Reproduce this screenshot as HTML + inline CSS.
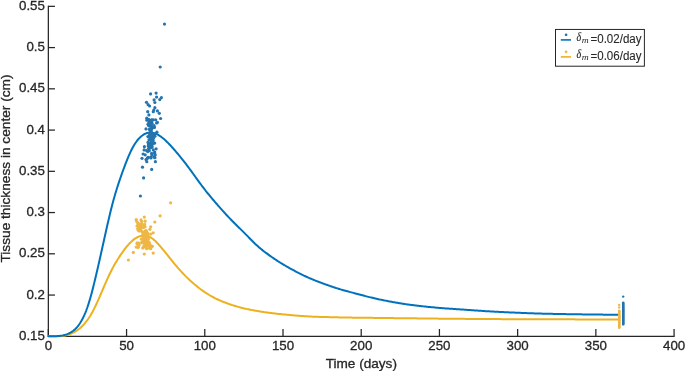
<!DOCTYPE html>
<html><head><meta charset="utf-8"><title>Tissue thickness</title><style>html,body{margin:0;padding:0;background:#fff}svg{display:block}</style></head><body>
<svg width="685" height="371" viewBox="0 0 685 371">
<rect width="685" height="371" fill="#fff"/>
<g stroke="#262626" stroke-width="1.25" fill="none">
<path d="M48.35 5.75 V336.90000000000003 M47.75 336.3 H674.65"/>
<path d="M48.35 336.30 h6.6"/>
<path d="M48.35 295.06 h6.6"/>
<path d="M48.35 253.81 h6.6"/>
<path d="M48.35 212.56 h6.6"/>
<path d="M48.35 171.32 h6.6"/>
<path d="M48.35 130.08 h6.6"/>
<path d="M48.35 88.83 h6.6"/>
<path d="M48.35 47.58 h6.6"/>
<path d="M48.35 6.34 h6.6"/>
<path d="M48.35 336.3 v-7.3"/>
<path d="M126.56 336.3 v-7.3"/>
<path d="M204.78 336.3 v-7.3"/>
<path d="M283.00 336.3 v-7.3"/>
<path d="M361.21 336.3 v-7.3"/>
<path d="M439.43 336.3 v-7.3"/>
<path d="M517.64 336.3 v-7.3"/>
<path d="M595.86 336.3 v-7.3"/>
<path d="M674.07 336.3 v-7.3"/>
</g>
<g font-family="&quot;Liberation Sans&quot;, sans-serif" font-size="13.3" fill="#262626" stroke="#262626" stroke-width="0.3">
<text x="44.9" y="339.7" text-anchor="end">0.15</text>
<text x="44.9" y="298.5" text-anchor="end">0.2</text>
<text x="44.9" y="257.2" text-anchor="end">0.25</text>
<text x="44.9" y="216.0" text-anchor="end">0.3</text>
<text x="44.9" y="174.7" text-anchor="end">0.35</text>
<text x="44.9" y="133.5" text-anchor="end">0.4</text>
<text x="44.9" y="92.2" text-anchor="end">0.45</text>
<text x="44.9" y="51.0" text-anchor="end">0.5</text>
<text x="44.9" y="9.7" text-anchor="end">0.55</text>
<text x="48.4" y="349.7" text-anchor="middle">0</text>
<text x="126.6" y="349.7" text-anchor="middle">50</text>
<text x="204.8" y="349.7" text-anchor="middle">100</text>
<text x="283.0" y="349.7" text-anchor="middle">150</text>
<text x="361.2" y="349.7" text-anchor="middle">200</text>
<text x="439.4" y="349.7" text-anchor="middle">250</text>
<text x="517.6" y="349.7" text-anchor="middle">300</text>
<text x="595.9" y="349.7" text-anchor="middle">350</text>
<text x="674.1" y="349.7" text-anchor="middle">400</text>
</g>
<g font-family="&quot;Liberation Sans&quot;, sans-serif" font-size="13.6" fill="#262626" stroke="#262626" stroke-width="0.3">
<text x="361.3" y="367.6" text-anchor="middle">Time (days)</text>
<text transform="translate(9.6,168.5) rotate(-90)" text-anchor="middle" font-size="13.7">Tissue thickness in center (cm)</text>
</g>
<path d="M48.4 336.20 L49.4 336.20 L50.4 336.20 L51.4 336.20 L52.4 336.20 L53.4 336.20 L54.4 336.20 L55.4 336.20 L56.4 336.20 L57.4 336.20 L58.4 336.19 L59.4 336.15 L60.4 336.10 L61.4 336.03 L62.4 335.94 L63.4 335.83 L64.3 335.68 L65.3 335.50 L66.3 335.28 L67.3 335.03 L68.3 334.74 L69.3 334.41 L70.3 334.05 L71.3 333.65 L72.3 333.20 L73.3 332.71 L74.3 332.17 L75.3 331.59 L76.3 330.96 L77.3 330.27 L78.3 329.54 L79.3 328.75 L80.3 327.90 L81.3 327.00 L82.3 326.03 L83.3 325.00 L84.3 323.90 L85.3 322.73 L86.3 321.49 L87.3 320.16 L88.3 318.75 L89.3 317.26 L90.3 315.68 L91.3 314.00 L92.3 312.23 L93.3 310.36 L94.3 308.40 L95.3 306.36 L96.3 304.24 L97.3 302.06 L98.3 299.82 L99.3 297.55 L100.3 295.24 L101.3 292.92 L102.3 290.58 L103.3 288.24 L104.3 285.91 L105.3 283.60 L106.3 281.31 L107.3 279.07 L108.3 276.88 L109.3 274.76 L110.3 272.70 L111.3 270.70 L112.3 268.77 L113.3 266.90 L114.3 265.09 L115.3 263.34 L116.3 261.64 L117.3 260.00 L118.3 258.41 L119.3 256.86 L120.3 255.36 L121.3 253.89 L122.3 252.46 L123.3 251.07 L124.3 249.72 L125.3 248.42 L126.3 247.16 L127.3 245.95 L128.3 244.79 L129.3 243.69 L130.3 242.64 L131.3 241.65 L132.3 240.73 L133.3 239.88 L134.3 239.10 L135.3 238.41 L136.3 237.79 L137.3 237.25 L138.3 236.79 L139.3 236.40 L140.3 236.09 L141.3 235.85 L142.3 235.69 L143.3 235.60 L144.3 235.59 L145.3 235.66 L146.3 235.80 L147.3 236.03 L148.3 236.35 L149.3 236.75 L150.3 237.24 L151.3 237.83 L152.3 238.51 L153.3 239.28 L154.3 240.13 L155.3 241.05 L156.3 242.04 L157.3 243.08 L158.3 244.16 L159.3 245.27 L160.3 246.41 L161.3 247.58 L162.3 248.76 L163.3 249.97 L164.3 251.18 L165.3 252.41 L166.3 253.65 L167.3 254.89 L168.3 256.14 L169.3 257.39 L170.3 258.64 L171.3 259.88 L172.3 261.12 L173.3 262.36 L174.3 263.58 L175.3 264.79 L176.3 265.98 L177.3 267.16 L178.3 268.32 L179.3 269.46 L180.3 270.58 L181.3 271.68 L182.3 272.76 L183.3 273.81 L184.3 274.85 L185.3 275.86 L186.3 276.86 L187.3 277.84 L188.3 278.79 L189.3 279.74 L190.3 280.66 L191.3 281.57 L192.3 282.46 L193.3 283.33 L194.3 284.19 L195.3 285.03 L196.3 285.85 L197.3 286.65 L198.3 287.44 L199.3 288.21 L200.3 288.96 L201.3 289.70 L202.3 290.42 L203.3 291.13 L204.3 291.81 L205.3 292.48 L206.3 293.14 L207.3 293.77 L208.3 294.39 L209.3 295.00 L210.3 295.58 L211.3 296.16 L212.3 296.71 L213.3 297.25 L214.3 297.78 L215.3 298.29 L216.3 298.78 L217.3 299.26 L218.3 299.73 L219.3 300.18 L220.3 300.62 L221.3 301.05 L222.3 301.46 L223.3 301.87 L224.3 302.26 L225.3 302.65 L226.3 303.02 L227.3 303.38 L228.3 303.74 L229.3 304.09 L230.3 304.43 L231.3 304.76 L232.3 305.09 L233.3 305.40 L234.3 305.71 L235.3 306.01 L236.3 306.31 L237.3 306.60 L238.3 306.88 L239.3 307.15 L240.3 307.42 L241.3 307.68 L242.3 307.94 L243.3 308.18 L244.3 308.42 L245.3 308.66 L246.3 308.89 L247.3 309.11 L248.3 309.32 L249.3 309.53 L250.3 309.74 L251.3 309.94 L252.3 310.13 L253.3 310.32 L254.3 310.50 L255.3 310.68 L256.4 310.85 L257.4 311.02 L258.4 311.19 L259.4 311.35 L260.4 311.51 L261.4 311.67 L262.4 311.82 L263.4 311.97 L264.4 312.12 L265.4 312.27 L266.4 312.41 L267.4 312.55 L268.4 312.69 L269.4 312.82 L270.4 312.96 L271.4 313.08 L272.4 313.21 L273.4 313.33 L274.4 313.45 L275.4 313.57 L276.4 313.68 L277.4 313.79 L278.4 313.89 L279.4 314.00 L280.4 314.10 L281.4 314.20 L282.4 314.29 L283.4 314.39 L284.4 314.49 L285.4 314.58 L286.4 314.68 L287.4 314.77 L288.4 314.87 L289.4 314.96 L290.4 315.05 L291.4 315.14 L292.4 315.23 L293.4 315.32 L294.4 315.40 L295.4 315.49 L296.4 315.57 L297.4 315.65 L298.4 315.73 L299.4 315.81 L300.4 315.89 L301.4 315.96 L302.4 316.03 L303.4 316.10 L304.4 316.17 L305.4 316.24 L306.4 316.30 L307.4 316.36 L308.4 316.42 L309.4 316.48 L310.4 316.53 L311.4 316.58 L312.4 316.63 L313.4 316.67 L314.4 316.71 L315.4 316.75 L316.4 316.79 L317.4 316.82 L318.4 316.85 L319.4 316.88 L320.4 316.91 L321.4 316.94 L322.4 316.97 L323.4 316.99 L324.4 317.01 L325.4 317.04 L326.4 317.06 L327.4 317.09 L328.4 317.11 L329.4 317.13 L330.4 317.16 L331.4 317.18 L332.4 317.21 L333.4 317.23 L334.4 317.26 L335.4 317.28 L336.4 317.31 L337.4 317.33 L338.4 317.36 L339.4 317.38 L340.4 317.40 L341.4 317.43 L342.4 317.45 L343.4 317.47 L344.4 317.49 L345.4 317.51 L346.4 317.53 L347.4 317.55 L348.4 317.57 L349.4 317.58 L350.4 317.60 L351.4 317.62 L352.4 317.63 L353.4 317.65 L354.4 317.66 L355.4 317.68 L356.4 317.69 L357.4 317.70 L358.4 317.72 L359.4 317.73 L360.4 317.74 L361.4 317.75 L362.4 317.77 L363.4 317.78 L364.4 317.79 L365.4 317.80 L366.4 317.81 L367.4 317.82 L368.4 317.83 L369.4 317.84 L370.4 317.85 L371.4 317.86 L372.4 317.87 L373.4 317.88 L374.4 317.89 L375.4 317.91 L376.4 317.92 L377.4 317.93 L378.4 317.94 L379.4 317.95 L380.4 317.96 L381.4 317.97 L382.4 317.99 L383.4 318.00 L384.4 318.01 L385.4 318.02 L386.4 318.03 L387.4 318.04 L388.4 318.06 L389.4 318.07 L390.4 318.08 L391.4 318.09 L392.4 318.10 L393.4 318.11 L394.4 318.13 L395.4 318.14 L396.4 318.15 L397.4 318.16 L398.4 318.17 L399.4 318.18 L400.4 318.19 L401.4 318.20 L402.4 318.22 L403.4 318.23 L404.4 318.24 L405.4 318.25 L406.4 318.26 L407.4 318.27 L408.4 318.28 L409.4 318.29 L410.4 318.30 L411.4 318.32 L412.4 318.33 L413.4 318.34 L414.4 318.35 L415.4 318.36 L416.4 318.37 L417.4 318.39 L418.4 318.40 L419.4 318.41 L420.4 318.42 L421.4 318.43 L422.4 318.44 L423.4 318.46 L424.4 318.47 L425.4 318.48 L426.4 318.49 L427.4 318.50 L428.4 318.52 L429.4 318.53 L430.4 318.54 L431.4 318.55 L432.4 318.56 L433.4 318.57 L434.4 318.59 L435.4 318.60 L436.4 318.61 L437.4 318.62 L438.4 318.63 L439.4 318.64 L440.4 318.65 L441.4 318.66 L442.4 318.67 L443.4 318.68 L444.4 318.69 L445.4 318.70 L446.4 318.71 L447.4 318.72 L448.4 318.73 L449.4 318.74 L450.4 318.75 L451.4 318.76 L452.4 318.77 L453.4 318.78 L454.4 318.79 L455.4 318.79 L456.4 318.80 L457.4 318.81 L458.4 318.82 L459.4 318.83 L460.4 318.84 L461.4 318.85 L462.4 318.85 L463.4 318.86 L464.4 318.87 L465.4 318.88 L466.4 318.89 L467.4 318.90 L468.4 318.91 L469.4 318.91 L470.4 318.92 L471.4 318.93 L472.4 318.94 L473.4 318.95 L474.4 318.96 L475.4 318.96 L476.4 318.97 L477.4 318.98 L478.4 318.99 L479.4 318.99 L480.4 319.00 L481.4 319.01 L482.4 319.02 L483.4 319.02 L484.4 319.03 L485.4 319.03 L486.4 319.04 L487.4 319.05 L488.4 319.05 L489.4 319.06 L490.4 319.06 L491.4 319.07 L492.4 319.07 L493.4 319.08 L494.4 319.09 L495.4 319.09 L496.4 319.10 L497.4 319.10 L498.4 319.11 L499.4 319.11 L500.4 319.12 L501.4 319.13 L502.4 319.13 L503.4 319.14 L504.4 319.14 L505.4 319.15 L506.4 319.16 L507.4 319.16 L508.4 319.17 L509.4 319.17 L510.4 319.18 L511.4 319.18 L512.4 319.19 L513.4 319.19 L514.4 319.20 L515.4 319.20 L516.4 319.20 L517.4 319.21 L518.4 319.21 L519.4 319.22 L520.4 319.22 L521.4 319.22 L522.4 319.23 L523.4 319.23 L524.4 319.23 L525.4 319.23 L526.4 319.24 L527.4 319.24 L528.4 319.24 L529.4 319.24 L530.4 319.25 L531.4 319.25 L532.4 319.25 L533.4 319.25 L534.4 319.26 L535.4 319.26 L536.4 319.26 L537.4 319.26 L538.4 319.27 L539.4 319.27 L540.4 319.27 L541.4 319.28 L542.4 319.28 L543.4 319.28 L544.4 319.28 L545.4 319.29 L546.4 319.29 L547.4 319.29 L548.4 319.30 L549.4 319.30 L550.4 319.30 L551.4 319.30 L552.4 319.31 L553.4 319.31 L554.4 319.31 L555.4 319.32 L556.4 319.32 L557.4 319.32 L558.4 319.32 L559.4 319.33 L560.4 319.33 L561.4 319.33 L562.4 319.34 L563.4 319.34 L564.4 319.34 L565.4 319.35 L566.4 319.35 L567.4 319.35 L568.4 319.35 L569.4 319.36 L570.4 319.36 L571.4 319.36 L572.4 319.37 L573.4 319.37 L574.4 319.37 L575.4 319.38 L576.4 319.38 L577.4 319.38 L578.4 319.39 L579.4 319.39 L580.4 319.39 L581.4 319.39 L582.4 319.39 L583.4 319.40 L584.4 319.40 L585.4 319.40 L586.4 319.40 L587.4 319.40 L588.4 319.40 L589.4 319.40 L590.4 319.40 L591.4 319.40 L592.4 319.40 L593.4 319.40 L594.4 319.40 L595.4 319.40 L596.4 319.40 L597.4 319.40 L598.4 319.40 L599.4 319.40 L600.4 319.40 L601.4 319.40 L602.4 319.40 L603.4 319.40 L604.4 319.40 L605.4 319.40 L606.4 319.40 L607.4 319.40 L608.4 319.40 L609.4 319.40 L610.4 319.40 L611.4 319.40 L612.4 319.40 L613.4 319.40 L614.4 319.40 L615.4 319.40 L616.4 319.40 L617.4 319.40 L618.4 319.40" fill="none" stroke="#EDB120" stroke-width="2" stroke-linejoin="round" stroke-linecap="round"/>
<path d="M48.4 336.20 L49.4 336.20 L50.4 336.20 L51.4 336.20 L52.4 336.20 L53.4 336.20 L54.4 336.20 L55.4 336.18 L56.4 336.14 L57.4 336.09 L58.4 336.02 L59.4 335.94 L60.4 335.82 L61.4 335.68 L62.4 335.51 L63.4 335.31 L64.3 335.07 L65.3 334.79 L66.3 334.47 L67.3 334.10 L68.3 333.69 L69.3 333.22 L70.3 332.69 L71.3 332.10 L72.3 331.45 L73.3 330.71 L74.3 329.89 L75.3 328.98 L76.3 327.97 L77.3 326.85 L78.3 325.61 L79.3 324.24 L80.3 322.73 L81.3 321.08 L82.3 319.27 L83.3 317.29 L84.3 315.14 L85.3 312.80 L86.3 310.26 L87.3 307.52 L88.3 304.57 L89.3 301.40 L90.3 298.01 L91.3 294.41 L92.3 290.62 L93.3 286.69 L94.3 282.63 L95.3 278.49 L96.3 274.27 L97.3 269.99 L98.3 265.64 L99.3 261.23 L100.3 256.78 L101.3 252.28 L102.3 247.76 L103.3 243.22 L104.3 238.69 L105.3 234.18 L106.3 229.71 L107.3 225.29 L108.3 220.94 L109.3 216.67 L110.3 212.51 L111.3 208.47 L112.3 204.56 L113.3 200.81 L114.3 197.21 L115.3 193.77 L116.3 190.46 L117.3 187.26 L118.3 184.16 L119.3 181.15 L120.3 178.20 L121.3 175.32 L122.3 172.49 L123.3 169.73 L124.3 167.03 L125.3 164.39 L126.3 161.81 L127.3 159.31 L128.3 156.89 L129.3 154.57 L130.3 152.37 L131.3 150.28 L132.3 148.33 L133.3 146.50 L134.3 144.80 L135.3 143.22 L136.3 141.78 L137.3 140.45 L138.3 139.25 L139.3 138.16 L140.3 137.17 L141.3 136.30 L142.3 135.52 L143.3 134.83 L144.3 134.23 L145.3 133.73 L146.3 133.32 L147.3 133.00 L148.3 132.76 L149.3 132.62 L150.3 132.57 L151.3 132.60 L152.3 132.72 L153.3 132.91 L154.3 133.19 L155.3 133.53 L156.3 133.94 L157.3 134.42 L158.3 134.97 L159.3 135.57 L160.3 136.23 L161.3 136.94 L162.3 137.70 L163.3 138.50 L164.3 139.36 L165.3 140.25 L166.3 141.19 L167.3 142.16 L168.3 143.17 L169.3 144.21 L170.3 145.27 L171.3 146.36 L172.3 147.47 L173.3 148.60 L174.3 149.74 L175.3 150.89 L176.3 152.05 L177.3 153.23 L178.3 154.42 L179.3 155.62 L180.3 156.84 L181.3 158.07 L182.3 159.32 L183.3 160.58 L184.3 161.86 L185.3 163.15 L186.3 164.46 L187.3 165.79 L188.3 167.13 L189.3 168.48 L190.3 169.84 L191.3 171.21 L192.3 172.59 L193.3 173.97 L194.3 175.37 L195.3 176.76 L196.3 178.16 L197.3 179.55 L198.3 180.93 L199.3 182.31 L200.3 183.67 L201.3 185.01 L202.3 186.34 L203.3 187.65 L204.3 188.95 L205.3 190.24 L206.3 191.51 L207.3 192.76 L208.3 194.00 L209.3 195.23 L210.3 196.45 L211.3 197.65 L212.3 198.84 L213.3 200.02 L214.3 201.20 L215.3 202.36 L216.3 203.52 L217.3 204.66 L218.3 205.81 L219.3 206.95 L220.3 208.08 L221.3 209.20 L222.3 210.32 L223.3 211.43 L224.3 212.53 L225.3 213.62 L226.3 214.70 L227.3 215.77 L228.3 216.83 L229.3 217.88 L230.3 218.91 L231.3 219.94 L232.3 220.95 L233.3 221.96 L234.3 222.97 L235.3 223.96 L236.3 224.96 L237.3 225.95 L238.3 226.93 L239.3 227.92 L240.3 228.90 L241.3 229.89 L242.3 230.88 L243.3 231.87 L244.3 232.86 L245.3 233.86 L246.3 234.87 L247.3 235.88 L248.3 236.90 L249.3 237.93 L250.3 238.95 L251.3 239.97 L252.3 240.98 L253.3 241.98 L254.3 242.97 L255.3 243.94 L256.4 244.90 L257.4 245.83 L258.4 246.74 L259.4 247.63 L260.4 248.48 L261.4 249.31 L262.4 250.12 L263.4 250.91 L264.4 251.68 L265.4 252.43 L266.4 253.17 L267.4 253.91 L268.4 254.63 L269.4 255.35 L270.4 256.06 L271.4 256.77 L272.4 257.47 L273.4 258.16 L274.4 258.84 L275.4 259.52 L276.4 260.18 L277.4 260.84 L278.4 261.49 L279.4 262.12 L280.4 262.75 L281.4 263.36 L282.4 263.97 L283.4 264.57 L284.4 265.16 L285.4 265.75 L286.4 266.32 L287.4 266.89 L288.4 267.46 L289.4 268.02 L290.4 268.57 L291.4 269.12 L292.4 269.66 L293.4 270.20 L294.4 270.74 L295.4 271.27 L296.4 271.79 L297.4 272.31 L298.4 272.83 L299.4 273.34 L300.4 273.84 L301.4 274.34 L302.4 274.83 L303.4 275.32 L304.4 275.80 L305.4 276.27 L306.4 276.73 L307.4 277.18 L308.4 277.63 L309.4 278.07 L310.4 278.50 L311.4 278.92 L312.4 279.34 L313.4 279.75 L314.4 280.15 L315.4 280.56 L316.4 280.95 L317.4 281.35 L318.4 281.74 L319.4 282.13 L320.4 282.51 L321.4 282.89 L322.4 283.26 L323.4 283.63 L324.4 283.99 L325.4 284.36 L326.4 284.71 L327.4 285.06 L328.4 285.41 L329.4 285.76 L330.4 286.10 L331.4 286.44 L332.4 286.77 L333.4 287.11 L334.4 287.44 L335.4 287.76 L336.4 288.09 L337.4 288.41 L338.4 288.72 L339.4 289.03 L340.4 289.34 L341.4 289.64 L342.4 289.94 L343.4 290.23 L344.4 290.51 L345.4 290.78 L346.4 291.06 L347.4 291.32 L348.4 291.59 L349.4 291.85 L350.4 292.11 L351.4 292.37 L352.4 292.63 L353.4 292.89 L354.4 293.16 L355.4 293.43 L356.4 293.70 L357.4 293.97 L358.4 294.24 L359.4 294.51 L360.4 294.78 L361.4 295.05 L362.4 295.31 L363.4 295.58 L364.4 295.84 L365.4 296.10 L366.4 296.35 L367.4 296.61 L368.4 296.86 L369.4 297.10 L370.4 297.35 L371.4 297.59 L372.4 297.83 L373.4 298.06 L374.4 298.29 L375.4 298.52 L376.4 298.74 L377.4 298.97 L378.4 299.19 L379.4 299.40 L380.4 299.61 L381.4 299.83 L382.4 300.03 L383.4 300.24 L384.4 300.44 L385.4 300.64 L386.4 300.84 L387.4 301.03 L388.4 301.23 L389.4 301.42 L390.4 301.60 L391.4 301.79 L392.4 301.97 L393.4 302.15 L394.4 302.33 L395.4 302.51 L396.4 302.68 L397.4 302.85 L398.4 303.02 L399.4 303.18 L400.4 303.34 L401.4 303.50 L402.4 303.66 L403.4 303.81 L404.4 303.97 L405.4 304.12 L406.4 304.26 L407.4 304.40 L408.4 304.55 L409.4 304.68 L410.4 304.82 L411.4 304.95 L412.4 305.08 L413.4 305.21 L414.4 305.34 L415.4 305.46 L416.4 305.58 L417.4 305.70 L418.4 305.82 L419.4 305.93 L420.4 306.05 L421.4 306.16 L422.4 306.27 L423.4 306.38 L424.4 306.48 L425.4 306.59 L426.4 306.69 L427.4 306.79 L428.4 306.89 L429.4 306.99 L430.4 307.09 L431.4 307.18 L432.4 307.28 L433.4 307.37 L434.4 307.46 L435.4 307.55 L436.4 307.64 L437.4 307.73 L438.4 307.82 L439.4 307.90 L440.4 307.98 L441.4 308.06 L442.4 308.14 L443.4 308.22 L444.4 308.30 L445.4 308.38 L446.4 308.45 L447.4 308.52 L448.4 308.60 L449.4 308.67 L450.4 308.74 L451.4 308.81 L452.4 308.87 L453.4 308.94 L454.4 309.01 L455.4 309.08 L456.4 309.14 L457.4 309.21 L458.4 309.28 L459.4 309.35 L460.4 309.41 L461.4 309.48 L462.4 309.55 L463.4 309.62 L464.4 309.69 L465.4 309.75 L466.4 309.82 L467.4 309.89 L468.4 309.97 L469.4 310.04 L470.4 310.11 L471.4 310.18 L472.4 310.25 L473.4 310.32 L474.4 310.39 L475.4 310.46 L476.4 310.53 L477.4 310.60 L478.4 310.67 L479.4 310.74 L480.4 310.81 L481.4 310.87 L482.4 310.94 L483.4 311.00 L484.4 311.07 L485.4 311.13 L486.4 311.19 L487.4 311.25 L488.4 311.31 L489.4 311.37 L490.4 311.43 L491.4 311.49 L492.4 311.54 L493.4 311.60 L494.4 311.65 L495.4 311.71 L496.4 311.76 L497.4 311.81 L498.4 311.86 L499.4 311.91 L500.4 311.96 L501.4 312.01 L502.4 312.06 L503.4 312.11 L504.4 312.16 L505.4 312.20 L506.4 312.25 L507.4 312.30 L508.4 312.34 L509.4 312.39 L510.4 312.44 L511.4 312.48 L512.4 312.53 L513.4 312.57 L514.4 312.62 L515.4 312.66 L516.4 312.70 L517.4 312.75 L518.4 312.79 L519.4 312.83 L520.4 312.87 L521.4 312.92 L522.4 312.96 L523.4 313.00 L524.4 313.04 L525.4 313.08 L526.4 313.11 L527.4 313.15 L528.4 313.19 L529.4 313.23 L530.4 313.26 L531.4 313.30 L532.4 313.33 L533.4 313.36 L534.4 313.40 L535.4 313.43 L536.4 313.46 L537.4 313.49 L538.4 313.52 L539.4 313.55 L540.4 313.58 L541.4 313.60 L542.4 313.63 L543.4 313.65 L544.4 313.68 L545.4 313.70 L546.4 313.73 L547.4 313.75 L548.4 313.78 L549.4 313.80 L550.4 313.82 L551.4 313.84 L552.4 313.86 L553.4 313.88 L554.4 313.90 L555.4 313.92 L556.4 313.94 L557.4 313.96 L558.4 313.98 L559.4 314.00 L560.4 314.02 L561.4 314.04 L562.4 314.06 L563.4 314.08 L564.4 314.09 L565.4 314.11 L566.4 314.13 L567.4 314.15 L568.4 314.16 L569.4 314.18 L570.4 314.20 L571.4 314.21 L572.4 314.23 L573.4 314.25 L574.4 314.26 L575.4 314.28 L576.4 314.29 L577.4 314.31 L578.4 314.33 L579.4 314.34 L580.4 314.36 L581.4 314.37 L582.4 314.38 L583.4 314.40 L584.4 314.41 L585.4 314.43 L586.4 314.44 L587.4 314.45 L588.4 314.47 L589.4 314.48 L590.4 314.49 L591.4 314.50 L592.4 314.52 L593.4 314.53 L594.4 314.54 L595.4 314.55 L596.4 314.56 L597.4 314.57 L598.4 314.58 L599.4 314.59 L600.4 314.60 L601.4 314.61 L602.4 314.62 L603.4 314.63 L604.4 314.64 L605.4 314.65 L606.4 314.66 L607.4 314.66 L608.4 314.67 L609.4 314.68 L610.4 314.69 L611.4 314.70 L612.4 314.70 L613.4 314.71 L614.4 314.72 L615.4 314.72 L616.4 314.73 L617.4 314.74 L618.4 314.75" fill="none" stroke="#0072BD" stroke-width="2" stroke-linejoin="round" stroke-linecap="round"/>
<g fill="#2474ae"><circle cx="150.6" cy="93.9" r="1.6"/><circle cx="156.1" cy="93.1" r="1.6"/><circle cx="161.4" cy="97.6" r="1.6"/><circle cx="159.8" cy="99.6" r="1.6"/><circle cx="156.6" cy="97.1" r="1.6"/><circle cx="154.1" cy="99.9" r="1.6"/><circle cx="154.9" cy="102.5" r="1.6"/><circle cx="146.5" cy="102.3" r="1.6"/><circle cx="148.1" cy="104.7" r="1.6"/><circle cx="149.6" cy="106.0" r="1.6"/><circle cx="154.9" cy="107.7" r="1.6"/><circle cx="153.8" cy="110.1" r="1.6"/><circle cx="153.3" cy="111.7" r="1.6"/><circle cx="157.4" cy="110.9" r="1.6"/><circle cx="159.3" cy="113.3" r="1.6"/><circle cx="147.7" cy="111.7" r="1.6"/><circle cx="148.9" cy="114.9" r="1.6"/><circle cx="146.8" cy="118.2" r="1.6"/><circle cx="149.3" cy="119.8" r="1.6"/><circle cx="160.6" cy="118.5" r="1.6"/><circle cx="153.3" cy="119.8" r="1.6"/><circle cx="155.7" cy="119.8" r="1.6"/><circle cx="156.6" cy="123.0" r="1.6"/><circle cx="157.4" cy="122.4" r="1.6"/><circle cx="146.0" cy="128.9" r="1.6"/><circle cx="154.9" cy="136.2" r="1.6"/><circle cx="144.4" cy="146.7" r="1.6"/><circle cx="144.1" cy="149.9" r="1.6"/><circle cx="143.1" cy="154.0" r="1.6"/><circle cx="142.0" cy="158.3" r="1.6"/><circle cx="142.5" cy="167.2" r="1.6"/><circle cx="143.6" cy="177.9" r="1.6"/><circle cx="151.7" cy="169.4" r="1.6"/><circle cx="155.4" cy="161.7" r="1.6"/><circle cx="146.8" cy="161.7" r="1.6"/><circle cx="146.0" cy="159.6" r="1.6"/><circle cx="147.7" cy="157.5" r="1.6"/><circle cx="150.9" cy="157.2" r="1.6"/><circle cx="154.1" cy="156.9" r="1.6"/><circle cx="154.6" cy="153.2" r="1.6"/><circle cx="156.1" cy="148.8" r="1.6"/><circle cx="153.3" cy="149.9" r="1.6"/><circle cx="149.3" cy="150.7" r="1.6"/><circle cx="149.3" cy="148.3" r="1.6"/><circle cx="147.7" cy="151.6" r="1.6"/><circle cx="145.2" cy="154.8" r="1.6"/><circle cx="151.7" cy="145.9" r="1.6"/><circle cx="140.4" cy="196.0" r="1.6"/><circle cx="164.5" cy="24.1" r="1.6"/><circle cx="160.2" cy="67.0" r="1.6"/><circle cx="148.9" cy="125.7" r="1.6"/><circle cx="150.2" cy="135.9" r="1.6"/><circle cx="151.0" cy="136.5" r="1.6"/><circle cx="150.8" cy="142.4" r="1.6"/><circle cx="151.3" cy="126.3" r="1.6"/><circle cx="156.9" cy="132.2" r="1.6"/><circle cx="148.0" cy="142.4" r="1.6"/><circle cx="151.1" cy="123.2" r="1.6"/><circle cx="152.3" cy="136.8" r="1.6"/><circle cx="149.0" cy="139.8" r="1.6"/><circle cx="153.6" cy="137.8" r="1.6"/><circle cx="152.0" cy="135.6" r="1.6"/><circle cx="154.4" cy="127.4" r="1.6"/><circle cx="151.4" cy="132.2" r="1.6"/><circle cx="152.9" cy="139.1" r="1.6"/><circle cx="148.6" cy="144.8" r="1.6"/><circle cx="151.3" cy="130.1" r="1.6"/><circle cx="148.7" cy="145.2" r="1.6"/><circle cx="151.5" cy="143.6" r="1.6"/><circle cx="151.3" cy="125.1" r="1.6"/><circle cx="148.2" cy="146.0" r="1.6"/><circle cx="151.7" cy="127.4" r="1.6"/><circle cx="149.4" cy="133.2" r="1.6"/><circle cx="151.9" cy="135.4" r="1.6"/><circle cx="153.1" cy="135.4" r="1.6"/><circle cx="149.1" cy="145.0" r="1.6"/><circle cx="153.5" cy="143.0" r="1.6"/><circle cx="150.5" cy="123.6" r="1.6"/><circle cx="154.7" cy="143.1" r="1.6"/><circle cx="149.8" cy="134.9" r="1.6"/><circle cx="151.6" cy="139.0" r="1.6"/><circle cx="154.2" cy="135.1" r="1.6"/><circle cx="154.1" cy="127.0" r="1.6"/><circle cx="152.1" cy="146.7" r="1.6"/><circle cx="151.3" cy="121.5" r="1.6"/><circle cx="148.8" cy="123.2" r="1.6"/><circle cx="151.2" cy="127.2" r="1.6"/><circle cx="146.9" cy="120.2" r="1.6"/><circle cx="153.6" cy="136.2" r="1.6"/><circle cx="151.5" cy="128.3" r="1.6"/><circle cx="152.9" cy="143.7" r="1.6"/><circle cx="150.4" cy="147.0" r="1.6"/><circle cx="153.0" cy="127.7" r="1.6"/><circle cx="151.9" cy="119.9" r="1.6"/><circle cx="148.5" cy="124.5" r="1.6"/><circle cx="152.1" cy="123.4" r="1.6"/><circle cx="151.8" cy="120.2" r="1.6"/><circle cx="149.5" cy="145.8" r="1.6"/><circle cx="149.2" cy="144.1" r="1.6"/><circle cx="152.2" cy="133.6" r="1.6"/><circle cx="148.7" cy="137.0" r="1.6"/><circle cx="149.3" cy="136.4" r="1.6"/><circle cx="148.7" cy="145.3" r="1.6"/><circle cx="150.6" cy="139.2" r="1.6"/><circle cx="149.0" cy="125.7" r="1.6"/><circle cx="155.7" cy="133.6" r="1.6"/><circle cx="152.7" cy="134.4" r="1.6"/><circle cx="150.8" cy="135.2" r="1.6"/><circle cx="148.7" cy="119.6" r="1.6"/><circle cx="148.9" cy="120.7" r="1.6"/><circle cx="147.9" cy="136.6" r="1.6"/><circle cx="151.3" cy="128.9" r="1.6"/><circle cx="150.7" cy="138.8" r="1.6"/><circle cx="150.3" cy="120.7" r="1.6"/><circle cx="152.1" cy="137.9" r="1.6"/><circle cx="150.4" cy="131.8" r="1.6"/><circle cx="149.9" cy="135.6" r="1.6"/><circle cx="152.3" cy="127.8" r="1.6"/><circle cx="149.4" cy="129.3" r="1.6"/><circle cx="149.8" cy="129.6" r="1.6"/><circle cx="153.1" cy="140.6" r="1.6"/><circle cx="151.1" cy="139.6" r="1.6"/><circle cx="151.3" cy="127.7" r="1.6"/><circle cx="154.1" cy="125.7" r="1.6"/><circle cx="148.0" cy="124.2" r="1.6"/><circle cx="151.5" cy="147.4" r="1.6"/><circle cx="146.5" cy="150.5" r="1.6"/><circle cx="154.7" cy="152.1" r="1.6"/><circle cx="150.9" cy="158.0" r="1.6"/><circle cx="152.0" cy="155.1" r="1.6"/><circle cx="147.3" cy="158.4" r="1.6"/><circle cx="150.2" cy="147.7" r="1.6"/><circle cx="151.6" cy="153.4" r="1.6"/><circle cx="154.9" cy="157.7" r="1.6"/><circle cx="148.5" cy="148.6" r="1.6"/><circle cx="155.2" cy="155.0" r="1.6"/><circle cx="148.5" cy="157.3" r="1.6"/><circle cx="623.2" cy="296.6" r="1.2"/><circle cx="623.2" cy="302.6" r="1.2"/><circle cx="623.2" cy="303.1" r="1.2"/><circle cx="623.2" cy="303.6" r="1.2"/><circle cx="623.2" cy="304.1" r="1.2"/><circle cx="623.2" cy="304.6" r="1.2"/><circle cx="623.2" cy="305.1" r="1.2"/><circle cx="623.2" cy="305.6" r="1.2"/><circle cx="623.2" cy="306.1" r="1.2"/><circle cx="623.2" cy="306.6" r="1.2"/><circle cx="623.2" cy="307.1" r="1.2"/><circle cx="623.2" cy="307.6" r="1.2"/><circle cx="623.2" cy="308.1" r="1.2"/><circle cx="623.2" cy="308.5" r="1.2"/><circle cx="623.2" cy="309.0" r="1.2"/><circle cx="623.2" cy="309.5" r="1.2"/><circle cx="623.2" cy="310.0" r="1.2"/><circle cx="623.2" cy="310.5" r="1.2"/><circle cx="623.2" cy="311.0" r="1.2"/><circle cx="623.2" cy="311.5" r="1.2"/><circle cx="623.2" cy="312.0" r="1.2"/><circle cx="623.2" cy="312.5" r="1.2"/><circle cx="623.2" cy="313.0" r="1.2"/><circle cx="623.2" cy="313.5" r="1.2"/><circle cx="623.2" cy="314.0" r="1.2"/><circle cx="623.2" cy="314.5" r="1.2"/><circle cx="623.2" cy="315.0" r="1.2"/><circle cx="623.2" cy="315.5" r="1.2"/><circle cx="623.2" cy="316.0" r="1.2"/><circle cx="623.2" cy="316.5" r="1.2"/><circle cx="623.2" cy="317.0" r="1.2"/><circle cx="623.2" cy="317.5" r="1.2"/><circle cx="623.2" cy="318.0" r="1.2"/><circle cx="623.2" cy="318.5" r="1.2"/><circle cx="623.2" cy="318.9" r="1.2"/><circle cx="623.2" cy="319.4" r="1.2"/><circle cx="623.2" cy="319.9" r="1.2"/><circle cx="623.2" cy="320.4" r="1.2"/><circle cx="623.2" cy="320.9" r="1.2"/><circle cx="623.2" cy="321.4" r="1.2"/><circle cx="623.2" cy="321.9" r="1.2"/><circle cx="623.2" cy="322.4" r="1.2"/><circle cx="623.2" cy="322.9" r="1.2"/><circle cx="623.2" cy="323.4" r="1.2"/><circle cx="623.2" cy="323.9" r="1.2"/><circle cx="623.2" cy="324.4" r="1.2"/></g>
<g fill="#eeb746"><circle cx="170.6" cy="202.8" r="1.6"/><circle cx="160.1" cy="215.8" r="1.6"/><circle cx="144.3" cy="217.1" r="1.6"/><circle cx="136.2" cy="219.6" r="1.6"/><circle cx="141.0" cy="219.9" r="1.6"/><circle cx="145.1" cy="221.2" r="1.6"/><circle cx="154.8" cy="222.0" r="1.6"/><circle cx="137.8" cy="222.8" r="1.6"/><circle cx="141.8" cy="223.6" r="1.6"/><circle cx="144.6" cy="224.4" r="1.6"/><circle cx="137.0" cy="226.0" r="1.6"/><circle cx="139.4" cy="226.8" r="1.6"/><circle cx="145.1" cy="226.8" r="1.6"/><circle cx="150.7" cy="226.8" r="1.6"/><circle cx="149.9" cy="229.3" r="1.6"/><circle cx="137.8" cy="228.5" r="1.6"/><circle cx="140.2" cy="230.1" r="1.6"/><circle cx="153.2" cy="232.8" r="1.6"/><circle cx="150.7" cy="234.1" r="1.6"/><circle cx="137.0" cy="243.8" r="1.6"/><circle cx="136.2" cy="247.1" r="1.6"/><circle cx="142.7" cy="247.9" r="1.6"/><circle cx="146.7" cy="248.7" r="1.6"/><circle cx="150.7" cy="248.7" r="1.6"/><circle cx="152.4" cy="246.3" r="1.6"/><circle cx="133.3" cy="252.4" r="1.6"/><circle cx="144.3" cy="254.0" r="1.6"/><circle cx="153.2" cy="253.1" r="1.6"/><circle cx="128.4" cy="260.0" r="1.6"/><circle cx="146.1" cy="235.4" r="1.6"/><circle cx="148.4" cy="236.6" r="1.6"/><circle cx="146.9" cy="233.9" r="1.6"/><circle cx="146.2" cy="230.6" r="1.6"/><circle cx="147.5" cy="237.2" r="1.6"/><circle cx="145.4" cy="243.6" r="1.6"/><circle cx="144.0" cy="240.6" r="1.6"/><circle cx="145.1" cy="244.4" r="1.6"/><circle cx="144.0" cy="238.0" r="1.6"/><circle cx="148.2" cy="239.6" r="1.6"/><circle cx="143.0" cy="234.2" r="1.6"/><circle cx="145.1" cy="235.7" r="1.6"/><circle cx="146.4" cy="241.1" r="1.6"/><circle cx="146.3" cy="235.6" r="1.6"/><circle cx="148.5" cy="244.1" r="1.6"/><circle cx="146.4" cy="234.3" r="1.6"/><circle cx="141.5" cy="242.8" r="1.6"/><circle cx="143.0" cy="236.5" r="1.6"/><circle cx="145.2" cy="236.9" r="1.6"/><circle cx="144.2" cy="235.5" r="1.6"/><circle cx="147.8" cy="233.5" r="1.6"/><circle cx="145.0" cy="241.3" r="1.6"/><circle cx="144.4" cy="235.6" r="1.6"/><circle cx="146.5" cy="239.5" r="1.6"/><circle cx="143.7" cy="237.6" r="1.6"/><circle cx="143.7" cy="238.4" r="1.6"/><circle cx="147.4" cy="237.8" r="1.6"/><circle cx="144.3" cy="239.0" r="1.6"/><circle cx="141.4" cy="239.2" r="1.6"/><circle cx="142.2" cy="241.8" r="1.6"/><circle cx="145.4" cy="237.7" r="1.6"/><circle cx="144.9" cy="236.6" r="1.6"/><circle cx="146.7" cy="233.5" r="1.6"/><circle cx="145.0" cy="231.2" r="1.6"/><circle cx="145.8" cy="238.1" r="1.6"/><circle cx="145.3" cy="238.2" r="1.6"/><circle cx="146.0" cy="245.4" r="1.6"/><circle cx="147.3" cy="237.9" r="1.6"/><circle cx="144.7" cy="234.0" r="1.6"/><circle cx="145.3" cy="235.8" r="1.6"/><circle cx="146.8" cy="234.3" r="1.6"/><circle cx="143.4" cy="235.6" r="1.6"/><circle cx="146.2" cy="236.2" r="1.6"/><circle cx="146.1" cy="231.9" r="1.6"/><circle cx="144.3" cy="236.0" r="1.6"/><circle cx="145.8" cy="238.4" r="1.6"/><circle cx="146.9" cy="232.3" r="1.6"/><circle cx="143.4" cy="232.5" r="1.6"/><circle cx="147.5" cy="234.4" r="1.6"/><circle cx="144.0" cy="234.2" r="1.6"/><circle cx="146.8" cy="236.0" r="1.6"/><circle cx="143.5" cy="235.7" r="1.6"/><circle cx="143.4" cy="237.1" r="1.6"/><circle cx="147.5" cy="236.6" r="1.6"/><circle cx="144.6" cy="233.8" r="1.6"/><circle cx="146.2" cy="242.8" r="1.6"/><circle cx="142.4" cy="231.9" r="1.6"/><circle cx="148.0" cy="237.7" r="1.6"/><circle cx="143.9" cy="235.3" r="1.6"/><circle cx="145.5" cy="238.9" r="1.6"/><circle cx="138.1" cy="230.0" r="1.6"/><circle cx="138.5" cy="223.6" r="1.6"/><circle cx="138.0" cy="224.7" r="1.6"/><circle cx="140.4" cy="225.7" r="1.6"/><circle cx="140.7" cy="229.2" r="1.6"/><circle cx="143.5" cy="227.3" r="1.6"/><circle cx="141.0" cy="231.0" r="1.6"/><circle cx="143.2" cy="226.3" r="1.6"/><circle cx="141.2" cy="226.8" r="1.6"/><circle cx="139.9" cy="228.5" r="1.6"/><circle cx="138.3" cy="229.8" r="1.6"/><circle cx="136.6" cy="221.3" r="1.6"/><circle cx="139.1" cy="231.0" r="1.6"/><circle cx="141.6" cy="221.3" r="1.6"/><circle cx="140.6" cy="229.9" r="1.6"/><circle cx="142.9" cy="227.0" r="1.6"/><circle cx="140.5" cy="224.3" r="1.6"/><circle cx="143.1" cy="227.1" r="1.6"/><circle cx="146.2" cy="246.1" r="1.6"/><circle cx="149.1" cy="242.3" r="1.6"/><circle cx="145.1" cy="243.5" r="1.6"/><circle cx="148.9" cy="243.5" r="1.6"/><circle cx="148.8" cy="244.4" r="1.6"/><circle cx="148.1" cy="238.8" r="1.6"/><circle cx="147.6" cy="241.9" r="1.6"/><circle cx="149.5" cy="247.3" r="1.6"/><circle cx="150.5" cy="245.4" r="1.6"/><circle cx="144.3" cy="242.6" r="1.6"/><circle cx="147.3" cy="242.1" r="1.6"/><circle cx="143.9" cy="245.9" r="1.6"/><circle cx="148.4" cy="245.2" r="1.6"/><circle cx="142.7" cy="242.7" r="1.6"/><circle cx="147.3" cy="245.0" r="1.6"/><circle cx="146.2" cy="245.1" r="1.6"/><circle cx="149.1" cy="243.5" r="1.6"/><circle cx="146.6" cy="245.7" r="1.6"/><circle cx="151.0" cy="247.2" r="1.6"/><circle cx="147.1" cy="244.6" r="1.6"/><circle cx="145.4" cy="247.2" r="1.6"/><circle cx="145.3" cy="245.1" r="1.6"/><circle cx="149.1" cy="248.0" r="1.6"/><circle cx="148.0" cy="244.2" r="1.6"/><circle cx="138.8" cy="243.9" r="1.6"/><circle cx="139.0" cy="245.2" r="1.6"/><circle cx="138.1" cy="247.3" r="1.6"/><circle cx="138.4" cy="243.2" r="1.6"/><circle cx="138.0" cy="246.9" r="1.6"/><circle cx="137.2" cy="242.9" r="1.6"/><circle cx="619.2" cy="304.9" r="1.2"/><circle cx="619.2" cy="307.4" r="1.2"/><circle cx="619.2" cy="310.6" r="1.2"/><circle cx="619.2" cy="311.1" r="1.2"/><circle cx="619.2" cy="311.6" r="1.2"/><circle cx="619.2" cy="312.0" r="1.2"/><circle cx="619.2" cy="312.5" r="1.2"/><circle cx="619.2" cy="313.0" r="1.2"/><circle cx="619.2" cy="313.5" r="1.2"/><circle cx="619.2" cy="313.9" r="1.2"/><circle cx="619.2" cy="314.4" r="1.2"/><circle cx="619.2" cy="314.9" r="1.2"/><circle cx="619.2" cy="315.4" r="1.2"/><circle cx="619.2" cy="315.9" r="1.2"/><circle cx="619.2" cy="316.3" r="1.2"/><circle cx="619.2" cy="316.8" r="1.2"/><circle cx="619.2" cy="317.3" r="1.2"/><circle cx="619.2" cy="317.8" r="1.2"/><circle cx="619.2" cy="318.2" r="1.2"/><circle cx="619.2" cy="318.7" r="1.2"/><circle cx="619.2" cy="319.2" r="1.2"/><circle cx="619.2" cy="319.7" r="1.2"/><circle cx="619.2" cy="320.2" r="1.2"/><circle cx="619.2" cy="320.6" r="1.2"/><circle cx="619.2" cy="321.1" r="1.2"/><circle cx="619.2" cy="321.6" r="1.2"/><circle cx="619.2" cy="322.1" r="1.2"/><circle cx="619.2" cy="322.5" r="1.2"/><circle cx="619.2" cy="323.0" r="1.2"/><circle cx="619.2" cy="323.5" r="1.2"/><circle cx="619.2" cy="324.0" r="1.2"/><circle cx="619.2" cy="324.5" r="1.2"/><circle cx="619.2" cy="324.9" r="1.2"/><circle cx="619.2" cy="325.4" r="1.2"/><circle cx="619.2" cy="325.9" r="1.2"/><circle cx="619.2" cy="326.4" r="1.2"/><circle cx="619.2" cy="326.8" r="1.2"/><circle cx="619.2" cy="327.3" r="1.2"/><circle cx="619.2" cy="327.8" r="1.2"/></g>
<rect x="555.5" y="29.45" width="88.9" height="36.75" fill="#fff" stroke="#262626" stroke-width="1"/>
<path d="M560.8 39.9 H571" stroke="#0072BD" stroke-width="1.6"/>
<circle cx="566.1" cy="34.8" r="1.35" fill="#2474ae"/>
<g fill="#262626"><text transform="translate(576.6,40.8) scale(0.84,1)" font-family="&quot;Liberation Serif&quot;, serif" font-style="italic" font-size="12" stroke="#262626" stroke-width="0.15">δ</text><text transform="translate(581.7,42.6) scale(1.12,1)" font-family="&quot;Liberation Serif&quot;, serif" font-style="italic" font-size="8.6">m</text><text transform="translate(590.5,42.6) scale(1,1.04)" font-size="11.55" font-family="&quot;Liberation Sans&quot;, sans-serif" stroke="#262626" stroke-width="0.08">=0.02/day</text></g>
<path d="M560.8 56.9 H571" stroke="#EDB120" stroke-width="1.6"/>
<circle cx="566.1" cy="51.8" r="1.35" fill="#eeb746"/>
<g fill="#262626"><text transform="translate(576.6,57.8) scale(0.84,1)" font-family="&quot;Liberation Serif&quot;, serif" font-style="italic" font-size="12" stroke="#262626" stroke-width="0.15">δ</text><text transform="translate(581.7,59.6) scale(1.12,1)" font-family="&quot;Liberation Serif&quot;, serif" font-style="italic" font-size="8.6">m</text><text transform="translate(590.5,59.6) scale(1,1.04)" font-size="11.55" font-family="&quot;Liberation Sans&quot;, sans-serif" stroke="#262626" stroke-width="0.08">=0.06/day</text></g>
</svg>
</body></html>
